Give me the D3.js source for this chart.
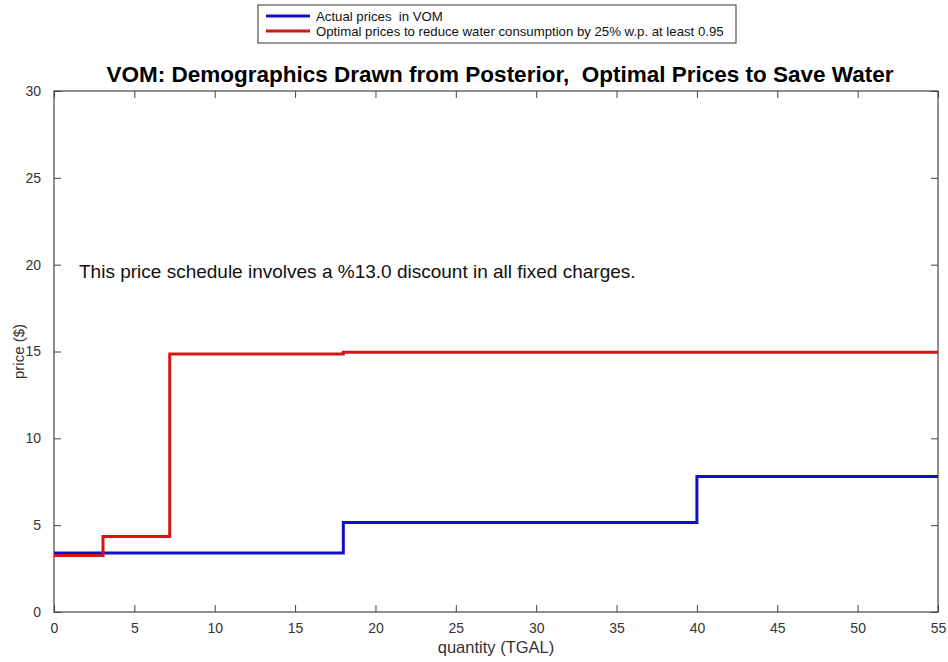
<!DOCTYPE html>
<html><head><meta charset="utf-8">
<script src="https://cdn.jsdelivr.net/npm/d3@7"></script>
<style>body{margin:0;background:#fff;font-family:"Liberation Sans",Arial,sans-serif;} text{white-space:pre;}</style>
</head><body><svg id="c" width="948" height="662"></svg>
<script>
const actualQ = [0, 18, 40, 55];
const actualP = [3.4, 5.15, 7.8, 7.8];
const optimalQ = [0, 3.05, 7.2, 18, 55];
const optimalP = [3.25, 4.35, 14.85, 14.95, 14.95];
const xTicks = [0,5,10,15,20,25,30,35,40,45,50,55];
const yTicks = [0,5,10,15,20,25,30];
const seriesNames = ["Actual prices  in VOM", "Optimal prices to reduce water consumption by 25% w.p. at least 0.95"];
const colors = ["#1010c0", "#d41515"];

const svg = d3.select("#c");
const L=54, R=938, T=91, B=612;
const x = d3.scaleLinear().domain([0,55]).range([L,R]);
const y = d3.scaleLinear().domain([0,30]).range([B,T]);

svg.append("rect").attr("x",0).attr("y",0).attr("width",948).attr("height",662).attr("fill","#fff");

const tickLen=7;
const ax = g => g.selectAll("text").attr("fill","#333").style("font-size","14px").style("font-family","Liberation Sans, Arial, sans-serif");
svg.append("g").attr("transform",`translate(0,${B})`)
  .call(d3.axisBottom(x).tickValues(xTicks).tickSize(-tickLen).tickPadding(tickLen+4).tickSizeOuter(0))
  .call(ax).call(g=>g.select(".domain").remove());
svg.append("g").attr("transform",`translate(0,${T})`)
  .call(d3.axisTop(x).tickValues(xTicks).tickSize(-tickLen).tickFormat("").tickSizeOuter(0))
  .call(g=>g.select(".domain").remove());
svg.append("g").attr("transform",`translate(${L},0)`)
  .call(d3.axisLeft(y).tickValues(yTicks).tickSize(-tickLen).tickPadding(tickLen+6).tickSizeOuter(0))
  .call(ax).call(g=>g.select(".domain").remove());
svg.append("g").attr("transform",`translate(${R},0)`)
  .call(d3.axisRight(y).tickValues(yTicks).tickSize(-tickLen).tickFormat("").tickSizeOuter(0))
  .call(g=>g.select(".domain").remove());
svg.selectAll(".tick line").attr("stroke","#444");

svg.append("rect").attr("x",L).attr("y",T).attr("width",R-L).attr("height",B-T)
  .attr("fill","none").attr("stroke","#444").attr("stroke-width",1.2);

const line = d3.line().x(d=>x(d[0])).y(d=>y(d[1])).curve(d3.curveStepAfter);
svg.append("path").datum(actualQ.map((q,i)=>[q,actualP[i]]))
  .attr("d",line).attr("fill","none").attr("stroke",colors[0]).attr("stroke-width",3);
svg.append("path").datum(optimalQ.map((q,i)=>[q,optimalP[i]]))
  .attr("d",line).attr("fill","none").attr("stroke",colors[1]).attr("stroke-width",3);

svg.append("text").attr("x",79).attr("y",278).attr("font-size","19px").attr("fill","#111")
  .text("This price schedule involves a %13.0 discount in all fixed charges.");

svg.append("text").attr("x",500).attr("y",82).attr("text-anchor","middle")
  .attr("font-size","22.5px").attr("font-weight","bold").attr("fill","#000")
  .text("VOM: Demographics Drawn from Posterior,  Optimal Prices to Save Water");

svg.append("text").attr("x",(L+R)/2).attr("y",653).attr("text-anchor","middle")
  .attr("font-size","16.5px").attr("fill","#333").text("quantity (TGAL)");
svg.append("text").attr("transform",`translate(24,${(T+B)/2}) rotate(-90)`).attr("text-anchor","middle")
  .attr("font-size","15px").attr("fill","#333").text("price ($)");

const lg = svg.append("g");
lg.append("rect").attr("x",258).attr("y",5).attr("width",478).attr("height",38)
  .attr("fill","#fff").attr("stroke","#333").attr("stroke-width",1);
seriesNames.forEach((n,i)=>{
  const yy = 16 + i*15;
  lg.append("line").attr("x1",266).attr("x2",310).attr("y1",yy).attr("y2",yy)
    .attr("stroke",colors[i]).attr("stroke-width",3);
  lg.append("text").attr("x",316).attr("y",yy+4.5).attr("font-size","13.2px").attr("fill","#111").text(n);
});
</script></body></html>
